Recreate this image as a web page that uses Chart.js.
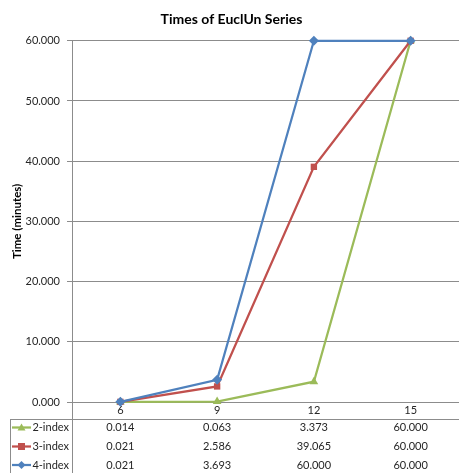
<!DOCTYPE html>
<html>
<head>
<meta charset="utf-8">
<script src="https://cdn.jsdelivr.net/npm/chart.js@4/dist/chart.umd.min.js"></script>
<style>
  html, body { margin: 0; padding: 0; background: #fff; }
  #wrap { width: 459px; height: 473px; }
</style>
</head>
<body>
<div id="wrap"><canvas id="c" width="459" height="473"></canvas></div>
<script>
// Category labels (problem size) and run times per index variant, in minutes
const sizes = ['6', '9', '12', '15'];
const twoIndex = [0.014, 0.063, 3.373, 60.000];
const threeIndex = [0.021, 2.586, 39.065, 60.000];
const fourIndex = [0.021, 3.693, 60.000, 60.000];
const yTicks = [0, 10, 20, 30, 40, 50, 60];

const FONT = 'Lato, "Open Sans", sans-serif';
const GREEN = '#9BBB59', RED = '#C0504D', BLUE = '#4F81BD';
const LINE_GRAY = '#8c8c8c';
const TEXT = '#262626';

const series = [
  { label: '4-index', data: fourIndex, color: BLUE, style: 'rectRot', radius: 5 },
  { label: '3-index', data: threeIndex, color: RED, style: 'rect', radius: 4.5 },
  { label: '2-index', data: twoIndex, color: GREEN, style: 'triangle', radius: 5 }
];

function marker(ctx, style, x, y, r, color) {
  ctx.save();
  ctx.fillStyle = color;
  ctx.beginPath();
  if (style === 'triangle') {
    ctx.moveTo(x, y - r);
    ctx.lineTo(x + r, y + r * 0.75);
    ctx.lineTo(x - r, y + r * 0.75);
  } else if (style === 'rect') {
    ctx.rect(x - r, y - r, 2 * r, 2 * r);
  } else {
    ctx.moveTo(x, y - r);
    ctx.lineTo(x + r, y);
    ctx.lineTo(x, y + r);
    ctx.lineTo(x - r, y);
  }
  ctx.closePath();
  ctx.fill();
  ctx.restore();
}

// Data table under the plot: legend keys on the left, one value per category column
const dataTable = {
  id: 'dataTable',
  afterDraw(chart) {
    const ctx = chart.ctx;
    const area = chart.chartArea;
    const xs = chart.scales.x;
    const H = chart.height, W = chart.width;
    const tableTop = 419.5;
    ctx.save();
    ctx.strokeStyle = LINE_GRAY;
    ctx.lineWidth = 1;
    ctx.beginPath();
    ctx.moveTo(Math.round(area.left) + 0.5, area.bottom);
    ctx.lineTo(Math.round(area.left) + 0.5, H);
    ctx.moveTo(10, tableTop);
    ctx.lineTo(W, tableTop);
    ctx.moveTo(10.5, tableTop);
    ctx.lineTo(10.5, H);
    ctx.stroke();

    const rows = [
      { label: '2-index', data: twoIndex, color: GREEN, style: 'triangle', r: 4 },
      { label: '3-index', data: threeIndex, color: RED, style: 'rect', r: 3.5 },
      { label: '4-index', data: fourIndex, color: BLUE, style: 'rectRot', r: 4 }
    ];
    const rowY = [427.5, 446.5, 465];
    ctx.font = '11px ' + FONT;
    ctx.textBaseline = 'middle';
    rows.forEach((row, i) => {
      const y = rowY[i];
      ctx.strokeStyle = row.color;
      ctx.lineWidth = 2.25;
      ctx.beginPath();
      ctx.moveTo(12, y);
      ctx.lineTo(31, y);
      ctx.stroke();
      marker(ctx, row.style, 21.5, y, row.r, row.color);
      ctx.fillStyle = TEXT;
      ctx.textAlign = 'right';
      ctx.fillText(row.label, 69, y);
      ctx.textAlign = 'center';
      row.data.forEach((v, j) => {
        ctx.fillText(v.toFixed(3), xs.getPixelForValue(j), y);
      });
    });
    ctx.restore();
  }
};

new Chart(document.getElementById('c'), {
  type: 'line',
  data: {
    labels: sizes,
    datasets: series.map(s => ({
      label: s.label,
      data: s.data,
      borderColor: s.color,
      backgroundColor: s.color,
      pointBackgroundColor: s.color,
      pointBorderColor: s.color,
      pointStyle: s.style,
      pointRadius: s.radius,
      pointBorderWidth: 0,
      borderWidth: 2.25,
      tension: 0,
      clip: false
    }))
  },
  options: {
    responsive: false,
    animation: false,
    devicePixelRatio: 1,
    layout: { autoPadding: false, padding: { left: 0, right: -4, top: 0, bottom: 54 } },
    plugins: {
      legend: { display: false },
      tooltip: { enabled: false },
      title: {
        display: true,
        text: 'Times of EuclUn Series',
        color: '#000',
        font: { family: FONT, size: 14, weight: 'bold' },
        padding: { top: 11, bottom: 13 }
      }
    },
    scales: {
      x: {
        type: 'category',
        offset: true,
        grid: { display: false, drawTicks: false },
        border: { display: true, color: LINE_GRAY, width: 1 },
        ticks: {
          color: TEXT,
          font: { family: FONT, size: 11 },
          padding: 2,
          maxRotation: 0
        },
        afterFit(scale) { scale.height = 17; }
      },
      y: {
        min: 0,
        max: 60,
        afterBuildTicks(scale) { scale.ticks = yTicks.map(v => ({ value: v })); },
        grid: { color: LINE_GRAY, lineWidth: 1, drawTicks: true, tickLength: 5 },
        border: { display: true, color: LINE_GRAY, width: 1 },
        ticks: {
          color: TEXT,
          font: { family: FONT, size: 11 },
          padding: 7,
          callback: v => Number(v).toFixed(3)
        },
        title: {
          display: true,
          text: 'Time (minutes)',
          color: '#000',
          font: { family: FONT, size: 11.5, weight: 'bold' },
          padding: { top: 10, bottom: 0 }
        },
        afterFit(scale) { scale.width = 72; }
      }
    }
  },
  plugins: [dataTable]
});
</script>
</body>
</html>
